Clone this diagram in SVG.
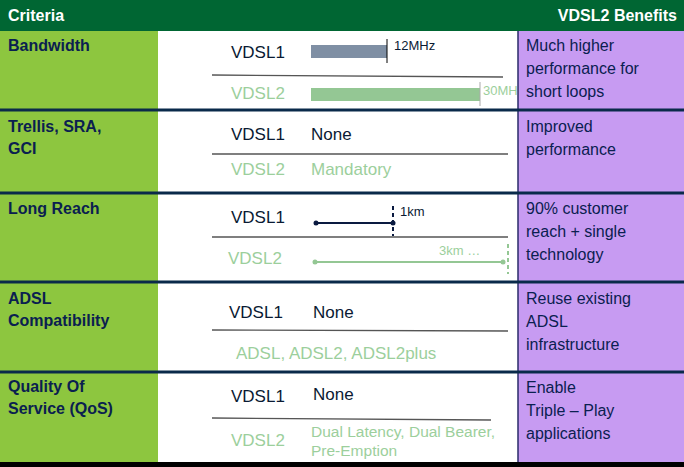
<svg xmlns="http://www.w3.org/2000/svg" width="684" height="467" viewBox="0 0 684 467">
<style>
text{font-family:"Liberation Sans",Arial,sans-serif}
.h{fill:#fff;font-weight:bold;font-size:16px}
.c{fill:#0a2050;font-weight:bold;font-size:16px}
.b{fill:#0a2050;font-size:16px}
.v1{fill:#0a1a33;font-size:17px}
.v2{fill:#9ccf9c;font-size:17px}
.sep{stroke:#0a2a4a;stroke-width:3}
.gl{stroke:#555;stroke-width:1.3}
</style>
<defs><clipPath id="mid"><rect x="158" y="31" width="360" height="431"/></clipPath></defs>
<rect width="684" height="467" fill="#fff"/>
<rect x="0" y="0" width="684" height="31" fill="#006633"/>
<rect x="0" y="31" width="158" height="431" fill="#8dc63f"/>
<rect x="158" y="31" width="360" height="431" fill="#fff"/>
<rect x="518" y="31" width="166" height="431" fill="#c79bf2"/>
<line x1="518" y1="31" x2="518" y2="462" stroke="#2a2a6a" stroke-width="1.5"/>
<rect x="0" y="462" width="684" height="5" fill="#000"/>
<g id="header"><text class="h" x="8" y="21">Criteria</text><text class="h" x="677" y="21" text-anchor="end">VDSL2 Benefits</text></g>
<g id="separators">
<line class="sep" x1="0" y1="110" x2="684" y2="110"/>
<line class="sep" x1="0" y1="193" x2="684" y2="193"/>
<line class="sep" x1="0" y1="282" x2="684" y2="282"/>
<line class="sep" x1="0" y1="372" x2="684" y2="372"/>
</g>
<g id="row1">
<text class="c" x="8" y="51">Bandwidth</text>
<text class="v1" x="231" y="58">VDSL1</text>
<rect x="311" y="45" width="76" height="13" fill="#7f8fa4"/>
<line x1="387" y1="39" x2="387" y2="63" stroke="#000"/>
<text x="394" y="50" font-size="13" fill="#0a1a33">12MHz</text>
<line class="gl" x1="212" y1="75" x2="503" y2="77"/>
<text class="v2" x="231" y="99">VDSL2</text>
<rect x="311" y="88" width="169" height="13" fill="#94c794"/>
<line x1="480" y1="82" x2="480" y2="106" stroke="#aaa"/>
<text x="483" y="95" font-size="13" fill="#9ccf9c" clip-path="url(#mid)">30MHz</text>
<text class="b" x="526" y="51">Much higher</text><text class="b" x="526" y="74">performance for</text><text class="b" x="526" y="97">short loops</text>
</g>
<g id="row2">
<text class="c" x="8" y="132">Trellis, SRA,</text><text class="c" x="8" y="154">GCI</text>
<text class="v1" x="231" y="140">VDSL1</text><text class="v1" x="311" y="140">None</text>
<line class="gl" x1="212" y1="154" x2="508" y2="154" stroke="#999"/>
<text class="v2" x="231" y="175">VDSL2</text><text class="v2" x="311" y="175">Mandatory</text>
<text class="b" x="526" y="132">Improved</text><text class="b" x="526" y="155">performance</text>
</g>
<g id="row3">
<text class="c" x="8" y="214">Long Reach</text>
<text class="v1" x="231" y="223">VDSL1</text>
<line x1="316" y1="223" x2="393" y2="223" stroke="#0a1a40" stroke-width="2"/>
<circle cx="316" cy="223" r="2.5" fill="#0a1a40"/><circle cx="393" cy="223" r="2.5" fill="#0a1a40"/>
<line x1="393" y1="206" x2="393" y2="236" stroke="#0a1a40" stroke-width="2" stroke-dasharray="4,3"/>
<text x="400" y="216" font-size="13" fill="#0a1a33">1km</text>
<line class="gl" x1="212" y1="237" x2="508" y2="237" stroke="#777"/>
<text class="v2" x="228" y="264">VDSL2</text>
<line x1="315" y1="262" x2="503" y2="262" stroke="#94c794" stroke-width="2"/>
<circle cx="315" cy="262" r="2.5" fill="#94c794"/><circle cx="503" cy="262" r="2.5" fill="#94c794"/>
<line x1="508" y1="244" x2="508" y2="274" stroke="#94c794" stroke-width="2" stroke-dasharray="4,3"/>
<text x="439" y="255" font-size="13" fill="#9ccf9c">3km …</text>
<text class="b" x="526" y="214">90% customer</text><text class="b" x="526" y="237">reach + single</text><text class="b" x="526" y="260">technology</text>
</g>
<g id="row4">
<text class="c" x="8" y="304">ADSL</text><text class="c" x="8" y="326">Compatibility</text>
<text class="v1" x="229" y="318">VDSL1</text><text class="v1" x="313" y="318">None</text>
<line class="gl" x1="212" y1="330" x2="508" y2="331" stroke="#222"/>
<text class="v2" x="236" y="359">ADSL, ADSL2, ADSL2plus</text>
<text class="b" x="526" y="304">Reuse existing</text><text class="b" x="526" y="327">ADSL</text><text class="b" x="526" y="350">infrastructure</text>
</g>
<g id="row5">
<text class="c" x="8" y="392">Quality Of</text><text class="c" x="8" y="414">Service (QoS)</text>
<text class="v1" x="231" y="402">VDSL1</text><text class="v1" x="313" y="400">None</text>
<line class="gl" x1="212" y1="418" x2="491" y2="420" stroke="#333"/>
<text class="v2" x="231" y="446">VDSL2</text>
<text x="311" y="437" font-size="15.5" fill="#9ccf9c">Dual Latency, Dual Bearer,</text>
<text x="311" y="456" font-size="15.5" fill="#9ccf9c">Pre-Emption</text>
<text class="b" x="526" y="393">Enable</text><text class="b" x="526" y="416">Triple – Play</text><text class="b" x="526" y="439">applications</text>
</g>
</svg>
